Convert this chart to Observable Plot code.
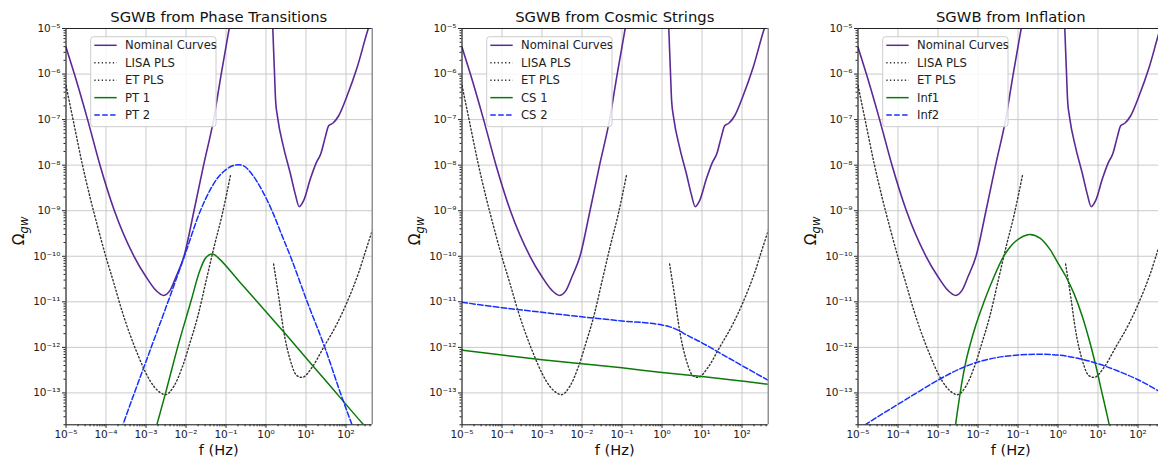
<!DOCTYPE html>
<html>
<head>
<meta charset="utf-8">
<script src="https://cdn.jsdelivr.net/npm/d3@7"></script>
<script src="https://cdn.jsdelivr.net/npm/@observablehq/plot@0.6"></script>
<style>
  html, body { margin: 0; padding: 0; background: #fff; overflow: hidden; }
  #wrap { position: relative; width: 1158px; height: 459px; font-family: "DejaVu Sans", sans-serif; }
  #wrap svg { position: absolute; top: 0; }
</style>
</head>
<body>
<div id="wrap"></div>
<script>
// ---------- DATA (values are log10 of f [Hz] and log10 of Omega_gw) ----------
const panelTitles = ["SGWB from Phase Transitions", "SGWB from Cosmic Strings", "SGWB from Inflation"];
const nominalNames = ["Nominal Curves", "LISA PLS", "ET PLS"];
const signalNames = [["PT 1", "PT 2"], ["CS 1", "CS 2"], ["Inf1", "Inf2"]];
const xTickExps = [-5, -4, -3, -2, -1, 0, 1, 2];
const yTickExps = [-13, -12, -11, -10, -9, -8, -7, -6, -5];
const xLabel = "f (Hz)";

// Nominal sensitivity curves
const lisaNomLogF = [-5, -4.79, -4.46, -4.15, -3.79, -3.30, -3.0, -2.75, -2.56, -2.4, -2.25, -2.05, -1.80, -1.56, -1.31, -1.12, -0.92, -0.88];
const lisaNomLogO = [-5.41, -6.0, -7.0, -8.0, -9.0, -10.0, -10.45, -10.75, -10.86, -10.75, -10.45, -10.0, -9.0, -8.0, -7.0, -6.0, -5.0, -4.8];
const etNomLogF = [0.16, 0.17, 0.21, 0.24, 0.29, 0.44, 0.61, 0.73, 0.83, 0.94, 1.11, 1.26, 1.37, 1.48, 1.57, 1.67, 1.82, 2.03, 2.28, 2.57, 2.62];
const etNomLogO = [-4.7, -5.0, -5.92, -6.58, -6.95, -7.61, -8.19, -8.63, -8.91, -8.78, -8.30, -7.94, -7.75, -7.39, -7.13, -7.08, -6.91, -6.47, -5.85, -4.97, -4.85];

// Power-law sensitivity curves
const lisaPlsLogF = [-5, -4.8, -4.6, -4.4, -4.2, -4.0, -3.8, -3.6, -3.4, -3.2, -3.0, -2.8, -2.65, -2.52, -2.3, -2.1, -1.9, -1.7, -1.5, -1.3, -1.1, -0.89];
const lisaPlsLogO = [-6.25, -7.1, -7.95, -8.7, -9.38, -10.02, -10.6, -11.2, -11.72, -12.17, -12.57, -12.86, -12.99, -13.04, -12.85, -12.45, -11.9, -11.3, -10.55, -9.8, -9.1, -8.23];
const etPlsLogF = [0.19, 0.32, 0.44, 0.61, 0.77, 0.9, 1.15, 1.44, 1.77, 2.03, 2.32, 2.52, 2.67];
const etPlsLogO = [-10.17, -10.9, -11.63, -12.29, -12.62, -12.66, -12.44, -12.0, -11.49, -11.0, -10.35, -9.8, -9.4];

// Phase transitions
const pt1LogF = [-2.76, -2.51, -2.21, -1.88, -1.66, -1.52, -1.42, -1.35, -1.28, -1.2, -0.64, 0.5, 1.5, 2.44, 2.52];
const pt1LogO = [-13.8, -13.0, -12.0, -11.0, -10.33, -10.05, -9.97, -9.95, -9.97, -10.03, -10.58, -11.72, -12.74, -13.7, -13.78];
const pt2LogF = [-3.62, -3.29, -2.87, -2.45, -2.04, -1.64, -1.4, -1.2, -1.0, -0.85, -0.7, -0.55, -0.35, -0.1, 0.15, 0.38, 0.61, 1.03, 1.47, 1.86, 2.15, 2.2];
const pt2LogO = [-13.8, -13.0, -12.0, -11.0, -10.0, -9.0, -8.55, -8.27, -8.1, -8.02, -7.99, -8.02, -8.2, -8.55, -9.0, -9.5, -10.0, -11.0, -12.0, -13.0, -13.7, -13.82];

// Cosmic strings
const cs1LogF = [-5, -4, -3, -2, -1, 0, 1, 2, 2.67];
const cs1LogO = [-12.06, -12.17, -12.27, -12.36, -12.45, -12.55, -12.64, -12.74, -12.81];
const cs2LogF = [-5, -4, -3, -2, -1, 0, 0.2, 0.4, 0.6, 1.0, 1.5, 2, 2.67];
const cs2LogO = [-11.01, -11.13, -11.23, -11.33, -11.42, -11.51, -11.55, -11.62, -11.72, -11.9, -12.15, -12.4, -12.73];

// Inflation
const inf1LogF = [-2.6, -2.56, -2.48, -2.4, -2.3, -2.2, -2.05, -1.85, -1.6, -1.37, -1.15, -0.95, -0.7, -0.45, -0.2, 0, 0.2, 0.4, 0.6, 0.8, 0.95, 1.1, 1.2, 1.28, 1.33];
const inf1LogO = [-14.0, -13.7, -13.2, -12.75, -12.3, -11.95, -11.5, -11.0, -10.45, -10.02, -9.75, -9.6, -9.52, -9.6, -9.85, -10.15, -10.45, -10.82, -11.3, -11.9, -12.42, -13.0, -13.38, -13.7, -13.95];
const inf2LogF = [-5, -4.5, -4, -3.5, -3, -2.5, -2, -1.5, -1, -0.5, 0, 0.5, 1, 1.5, 2, 2.52];
const inf2LogO = [-13.8, -13.52, -13.25, -12.98, -12.72, -12.49, -12.32, -12.22, -12.17, -12.15, -12.17, -12.24, -12.36, -12.52, -12.71, -12.96];

// ---------- BUILD ----------
const rows = (lf, lo) => lf.map((f, i) => ({ f: Math.pow(10, f), o: Math.pow(10, lo[i]) }));
const lisaNom = rows(lisaNomLogF, lisaNomLogO);
const etNom = rows(etNomLogF, etNomLogO);
const lisaPls = rows(lisaPlsLogF, lisaPlsLogO);
const etPls = rows(etPlsLogF, etPlsLogO);
const signals = [
  [rows(pt1LogF, pt1LogO), rows(pt2LogF, pt2LogO)],
  [rows(cs1LogF, cs1LogO), rows(cs2LogF, cs2LogO)],
  [rows(inf1LogF, inf1LogO), rows(inf2LogF, inf2LogO)]
];

const PURPLE = "#5b2a95", GREEN = "#0b7a0b", BLUE = "#1530ff", GRID = "#c4c4c4", DOTC = "#333";
const DOT = "1.3,2.4", DASH = "5.5,2.4";

const SUP = {"-": "\u207B", "0": "\u2070", "1": "\u00B9", "2": "\u00B2", "3": "\u00B3", "4": "\u2074", "5": "\u2075", "6": "\u2076", "7": "\u2077", "8": "\u2078", "9": "\u2079"};
const fmt = d => "10" + String(Math.round(Math.log10(d))).split("").map(c => SUP[c]).join("");

const xMajor = xTickExps.map(e => Math.pow(10, e));
const yMajor = yTickExps.map(e => Math.pow(10, e));
const xMinorAll = [], yMinorAll = [];
for (let e = -5; e <= 2; e++) for (let m = 2; m <= 9; m++) xMinorAll.push(m * Math.pow(10, e));
for (let e = -14; e <= -6; e++) for (let m = 2; m <= 9; m++) yMinorAll.push(m * Math.pow(10, e));

const ML = 65.5, MT = 28, MB = 34.7, H = 459, DEC = 40;
const wrap = document.getElementById("wrap");

for (let k = 0; k < 3; k++) {
  const last = k === 2;
  const W = last ? 366 : 396;
  const xMaxExp = last ? -5 + (W - ML) / DEC : 2.655;
  const MR = last ? 0 : W - ML - (xMaxExp + 5) * DEC;
  const xDom = [1e-5, Math.pow(10, xMaxExp)];
  const yDom = [Math.pow(10, -13.7), 1e-5];
  const xMinor = xMinorAll.filter(v => v > xDom[0] && v < xDom[1]);
  const yMinor = yMinorAll.filter(v => v > yDom[0] && v < yDom[1]);
  const [s1, s2] = signals[k];

  const marks = [
    Plot.ruleX(xMajor, { stroke: GRID, strokeWidth: 0.9 }),
    Plot.ruleY(yMajor, { stroke: GRID, strokeWidth: 0.9 }),
    Plot.line(lisaNom, { x: "f", y: "o", stroke: PURPLE, strokeWidth: 1.6, curve: "monotone-x", clip: true }),
    Plot.line(etNom, { x: "f", y: "o", stroke: PURPLE, strokeWidth: 1.6, curve: "monotone-x", clip: true }),
    Plot.line(lisaPls, { x: "f", y: "o", stroke: DOTC, strokeWidth: 1.4, strokeDasharray: DOT, curve: "monotone-x", clip: true }),
    Plot.line(etPls, { x: "f", y: "o", stroke: DOTC, strokeWidth: 1.4, strokeDasharray: DOT, curve: "monotone-x", clip: true }),
    Plot.line(s1, { x: "f", y: "o", stroke: GREEN, strokeWidth: 1.5, curve: "monotone-x", clip: true }),
    Plot.line(s2, { x: "f", y: "o", stroke: BLUE, strokeWidth: 1.5, strokeDasharray: DASH, curve: "monotone-x", clip: true }),
    Plot.ruleX([xDom[0]], { stroke: "#111", strokeWidth: 1 }),
    Plot.ruleY([yDom[0]], { stroke: "#111", strokeWidth: 1 }),
    Plot.ruleY([yDom[1]], { stroke: "#222", strokeWidth: 1 }),
    Plot.axisX(xMajor, { tickFormat: fmt, tickSize: 3.5, tickPadding: 2.5, label: null }),
    Plot.axisX(xMinor, { tickFormat: () => "", tickSize: 2, label: null }),
    Plot.axisY(yMajor, { tickFormat: fmt, tickSize: 3.5, tickPadding: 2, label: null }),
    Plot.axisY(yMinor, { tickFormat: () => "", tickSize: 2, label: null })
  ];
  if (!last) marks.push(Plot.ruleX([xDom[1]], { stroke: "#777", strokeWidth: 1.2 }));

  const svg = Plot.plot({
    width: W, height: H,
    marginTop: MT, marginBottom: MB, marginLeft: ML, marginRight: MR,
    x: { type: "log", domain: xDom, label: null },
    y: { type: "log", domain: yDom, label: null },
    style: { fontFamily: "DejaVu Sans, sans-serif", fontSize: "10.5px", color: "#222", background: "transparent", overflow: "visible" },
    marks
  });
  svg.style.left = (396 * k) + "px";

  const cx = ML + 306.5 / 2;
  const s = d3.select(svg);
  s.append("text").attr("x", cx).attr("y", 21.5).attr("text-anchor", "middle")
    .attr("font-family", "DejaVu Sans").attr("font-size", 14.75).attr("fill", "#111").text(panelTitles[k]);
  s.append("text").attr("x", cx).attr("y", 455).attr("text-anchor", "middle")
    .attr("font-family", "DejaVu Sans").attr("font-size", 14.6).attr("fill", "#111").text(xLabel);
  const yl = s.append("text").attr("transform", "translate(24,231) rotate(-90)").attr("text-anchor", "middle")
    .attr("font-family", "DejaVu Sans").attr("font-size", 15.5).attr("fill", "#111");
  yl.append("tspan").text("\u03A9");
  yl.append("tspan").attr("font-size", 11.5).attr("font-style", "italic").attr("dy", 3.5).text("gw");

  // legend
  const entries = [
    { label: nominalNames[0], color: PURPLE, dash: null },
    { label: nominalNames[1], color: DOTC, dash: DOT },
    { label: nominalNames[2], color: DOTC, dash: DOT },
    { label: signalNames[k][0], color: GREEN, dash: null },
    { label: signalNames[k][1], color: BLUE, dash: DASH }
  ];
  const g = s.append("g").attr("font-family", "DejaVu Sans").attr("font-size", 11.6).attr("text-anchor", "start");
  g.append("rect").attr("x", 90.7).attr("y", 36.7).attr("width", 125.3).attr("height", 90).attr("rx", 3)
    .attr("fill", "white").attr("fill-opacity", 0.85).attr("stroke", "#cccccc").attr("stroke-width", 1);
  entries.forEach((e, i) => {
    const cy = 45.3 + i * 17.45;
    g.append("line").attr("x1", 94.3).attr("x2", 116.7).attr("y1", cy).attr("y2", cy)
      .attr("stroke", e.color).attr("stroke-width", 1.5).attr("stroke-dasharray", e.dash);
    g.append("text").attr("x", 125).attr("y", cy).attr("dy", "0.36em").attr("text-anchor", "start")
      .attr("fill", "#222").text(e.label);
  });

  wrap.appendChild(svg);
}
</script>
</body>
</html>
